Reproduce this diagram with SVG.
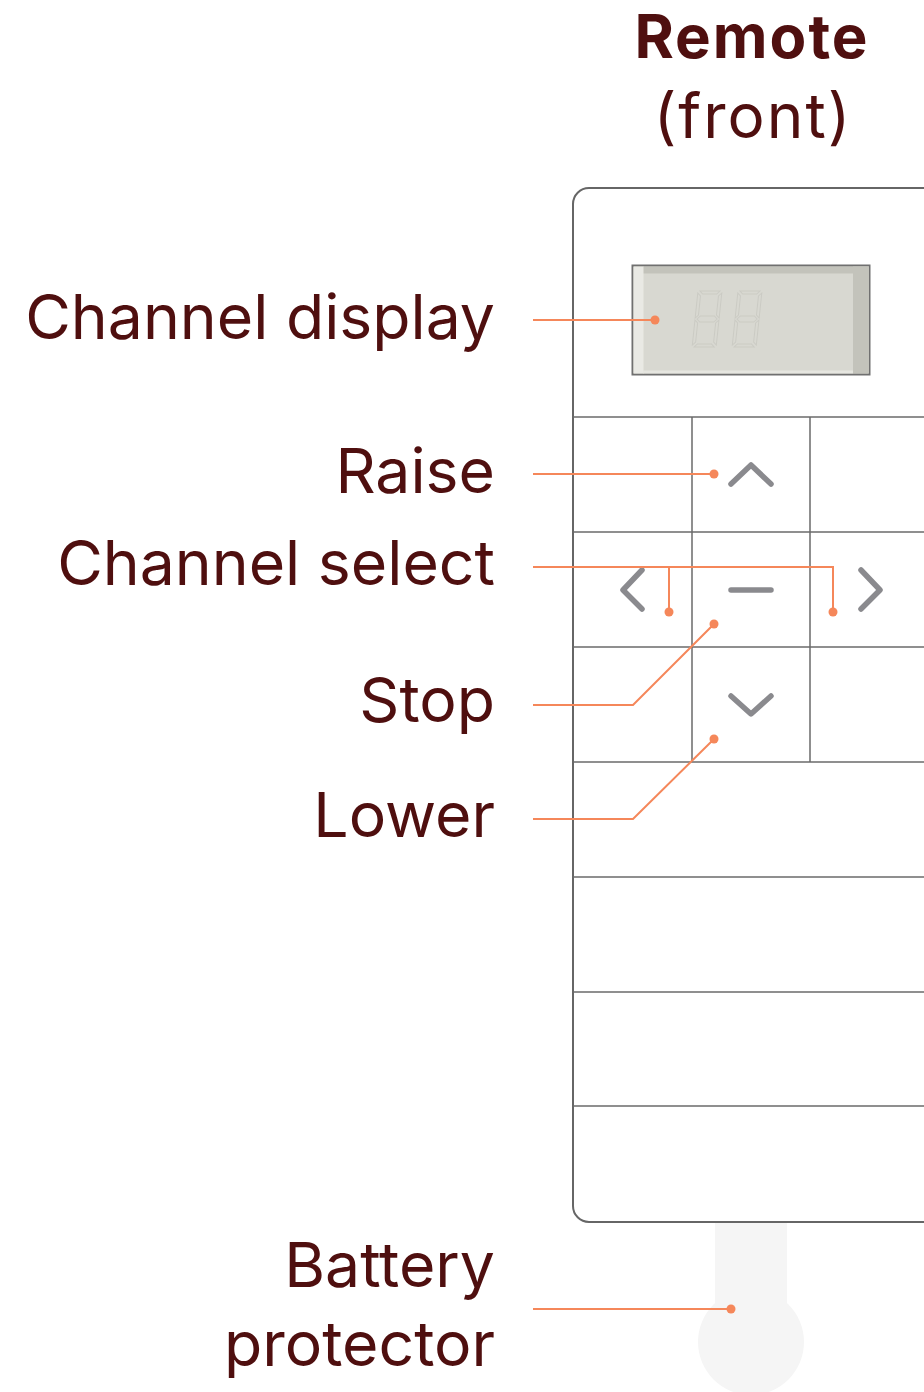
<svg xmlns="http://www.w3.org/2000/svg" width="924" height="1392" viewBox="0 0 924 1392">
  <style>
    .lbl { font-family: Inter, "Liberation Sans", sans-serif; font-size: 62.5px; fill: #4f0f0f; text-anchor: end; }
    .ttl { font-family: Inter, "Liberation Sans", sans-serif; fill: #4f0f0f; text-anchor: middle; }
    .grid { stroke: #6a6a6a; stroke-width: 1.5; fill: none; }
    .icon { stroke: #8a8a8e; stroke-width: 5.5; fill: none; stroke-linecap: round; stroke-linejoin: round; }
    .con { stroke: #f5875a; stroke-width: 2; fill: none; }
    .dot { fill: #f5875a; }
    .seg { fill: none; stroke: #cbcbc4; stroke-width: 1; }
  </style>
  <rect width="924" height="1392" fill="#ffffff"/>

  <g id="title">
    <text class="ttl" x="752" y="58" font-size="60" font-weight="700" letter-spacing="2">Remote</text>
    <text class="ttl" x="753" y="138" font-size="62" letter-spacing="2">(front)</text>
  </g>

  <g id="battery-protector">
    <rect x="715" y="1200" width="72" height="110" fill="#f5f5f5"/>
    <circle cx="751" cy="1342" r="53" fill="#f5f5f5"/>
  </g>

  <g id="remote-body">
    <rect x="573" y="188" width="420" height="1034" rx="16" ry="16" fill="#ffffff" stroke="#666666" stroke-width="2"/>
    <line class="grid" x1="573" y1="417" x2="924" y2="417"/>
    <line class="grid" x1="573" y1="532" x2="924" y2="532"/>
    <line class="grid" x1="573" y1="647" x2="924" y2="647"/>
    <line class="grid" x1="573" y1="762" x2="924" y2="762"/>
    <line class="grid" x1="573" y1="877" x2="924" y2="877"/>
    <line class="grid" x1="573" y1="992" x2="924" y2="992"/>
    <line class="grid" x1="573" y1="1106" x2="924" y2="1106"/>
    <line class="grid" x1="692" y1="417" x2="692" y2="762"/>
    <line class="grid" x1="810" y1="417" x2="810" y2="762"/>
  </g>

  <g id="channel-display">
    <rect x="632.5" y="265.5" width="237" height="109" fill="#d8d8d1" stroke="#707070" stroke-width="2"/>
    <rect x="643" y="266.5" width="226" height="7" fill="#c3c3bb"/>
    <rect x="853" y="266.5" width="16" height="107" fill="#c3c3bb"/>
    <rect x="633.5" y="266.5" width="10" height="107" fill="#e9e9e4"/>
    <rect x="643" y="370.5" width="210" height="3" fill="#e6e6e0"/>
    <g transform="translate(694 291) skewX(-6)">
      <path class="seg" d="M6 0 H26 L23 3 H9 Z M4 2 L7 5 V24 L4 27 Z M28 2 L25 5 V24 L28 27 Z M6 28 L9 25 H23 L26 28 L23 31 H9 Z M4 29 L7 32 V51 L4 54 Z M28 29 L25 32 V51 L28 54 Z M6 56 H26 L23 53 H9 Z"/>
    </g>
    <g transform="translate(734 291) skewX(-6)">
      <path class="seg" d="M6 0 H26 L23 3 H9 Z M4 2 L7 5 V24 L4 27 Z M28 2 L25 5 V24 L28 27 Z M6 28 L9 25 H23 L26 28 L23 31 H9 Z M4 29 L7 32 V51 L4 54 Z M28 29 L25 32 V51 L28 54 Z M6 56 H26 L23 53 H9 Z"/>
    </g>
  </g>

  <g id="raise-button">
    <polyline class="icon" points="731,484 751,465 771,484"/>
  </g>
  <g id="left-button">
    <polyline class="icon" points="642,570 623,590 642,609"/>
  </g>
  <g id="stop-button">
    <line class="icon" x1="731" y1="590" x2="771" y2="590"/>
  </g>
  <g id="right-button">
    <polyline class="icon" points="861,570 880,590 861,609"/>
  </g>
  <g id="lower-button">
    <polyline class="icon" points="731,696 751,714 771,696"/>
  </g>

  <g id="connectors">
    <line class="con" x1="533" y1="320" x2="655" y2="320"/>
    <circle class="dot" cx="655" cy="320" r="4.5"/>
    <line class="con" x1="533" y1="474" x2="714" y2="474"/>
    <circle class="dot" cx="714" cy="474" r="4.5"/>
    <polyline class="con" points="533,567 833,567 833,612"/>
    <line class="con" x1="669" y1="567" x2="669" y2="612"/>
    <circle class="dot" cx="669" cy="612" r="4.5"/>
    <circle class="dot" cx="833" cy="612" r="4.5"/>
    <polyline class="con" points="533,705 633,705 714,624"/>
    <circle class="dot" cx="714" cy="624" r="4.5"/>
    <polyline class="con" points="533,819 633,819 714,739"/>
    <circle class="dot" cx="714" cy="739" r="4.5"/>
    <line class="con" x1="533" y1="1309" x2="731" y2="1309"/>
    <circle class="dot" cx="731" cy="1309" r="4.5"/>
  </g>

  <g id="labels">
    <text class="lbl" x="495" y="339">Channel display</text>
    <text class="lbl" x="495" y="493">Raise</text>
    <text class="lbl" x="495" y="585">Channel select</text>
    <text class="lbl" x="495" y="722">Stop</text>
    <text class="lbl" x="495" y="837">Lower</text>
    <text class="lbl" x="495" y="1287">Battery</text>
    <text class="lbl" x="495" y="1366">protector</text>
  </g>
</svg>
